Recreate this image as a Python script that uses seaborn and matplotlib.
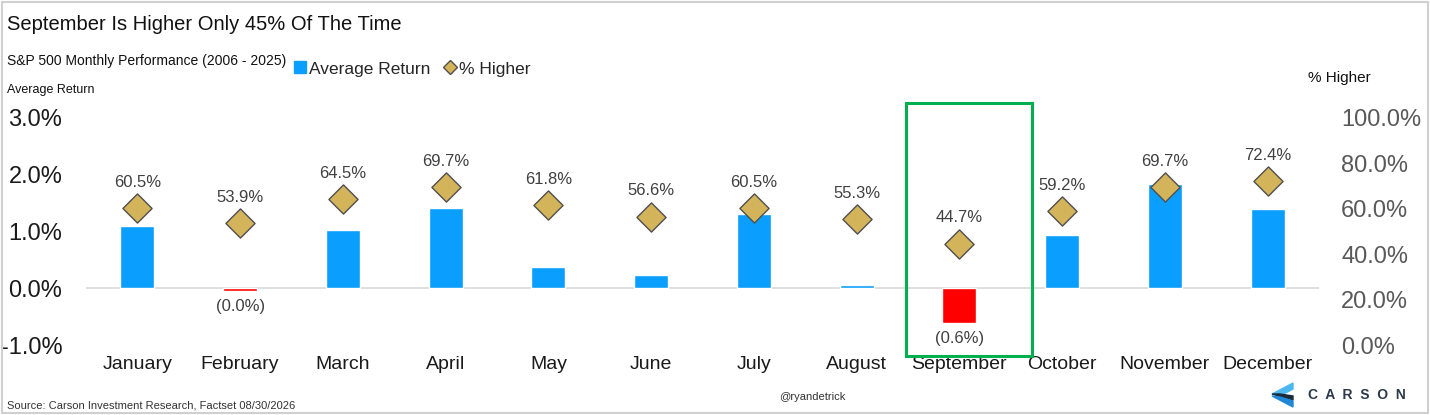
import matplotlib
matplotlib.use("Agg")
import matplotlib.pyplot as plt
from matplotlib import font_manager
from matplotlib.patches import Rectangle, Polygon
from matplotlib.lines import Line2D
import numpy as np
import pandas as pd
import seaborn as sns

# data
months = ["January", "February", "March", "April", "May", "June",
          "July", "August", "September", "October", "November", "December"]
avg_return = [1.09, -0.04, 1.03, 1.42, 0.37, 0.23, 1.30, 0.05, -0.61, 0.93, 1.84, 1.40]
pct_higher = [60.5, 53.9, 64.5, 69.7, 61.8, 56.6, 60.5, 55.3, 44.7, 59.2, 69.7, 72.4]
left_ticks = [-1.0, 0.0, 1.0, 2.0, 3.0]
right_ticks = [0, 20, 40, 60, 80, 100]

BLUE = "#0A9EFF"
RED = "#FF0000"
GOLD = "#D4B45A"
GREEN = "#00B050"

sns.set_theme(style="white")
names = {f.name for f in font_manager.fontManager.ttflist}
base_font = "Liberation Sans" if "Liberation Sans" in names else "DejaVu Sans"
plt.rcParams["font.family"] = [base_font, "DejaVu Sans"]

df = pd.DataFrame({"month": months, "ret": avg_return, "higher": pct_higher})
df["color"] = np.where(df["ret"] < 0, RED, BLUE)

W, H = 1430, 415
fig = plt.figure(figsize=(W / 100, H / 100), dpi=100)
ax = fig.add_axes([86 / W, 1 - 345 / H, (1319 - 86) / W, (345 - 118) / H])

ax.axhline(0, color="#D9D9D9", lw=1.2, zorder=0)
sns.barplot(data=df, x="month", y="ret", hue="month", palette=list(df["color"]),
            legend=False, width=0.33, ax=ax, saturation=1, zorder=2)
ax.set_ylim(-1.0, 3.0)
ax.set_xlim(-0.5, len(months) - 0.5)
ax.set_yticks(left_ticks)
ax.set_yticklabels([f"{t:.1f}%" for t in left_ticks])
for s in ax.spines.values():
    s.set_visible(False)
ax.set_xlabel("")
ax.set_ylabel("")
ax.tick_params(axis="y", labelsize=17, colors="#1A1A1A", length=0, pad=17)
ax.tick_params(axis="x", labelsize=14, colors="#1A1A1A", length=0, pad=8)

# negative bar labels
for i, v in enumerate(avg_return):
    if v < 0:
        ax.annotate(f"({abs(v):.1f}%)", (i, v), xytext=(0, -6), textcoords="offset points",
                    ha="center", va="top", fontsize=12, color="#404040")

ax2 = ax.twinx()
sns.scatterplot(x=np.arange(len(months)), y=pct_higher, marker="D", s=220,
                color=GOLD, edgecolor="#4F4F4F", linewidth=1, ax=ax2, zorder=5)
ax2.set_ylim(0, 100)
ax2.set_yticks(right_ticks)
ax2.set_yticklabels([f"{t:.1f}%" for t in right_ticks])
for s in ax2.spines.values():
    s.set_visible(False)
ax2.set_ylabel("")
ax2.tick_params(axis="y", labelsize=17, colors="#595959", length=0, pad=16)
for i, v in enumerate(pct_higher):
    ax2.annotate(f"{v:.1f}%", (i, v), xytext=(0, 13), textcoords="offset points",
                 ha="center", va="bottom", fontsize=12, color="#404040")

# highlight box around September
sep = months.index("September")
ax.add_patch(Rectangle((sep - 0.52, -1.19), 1.23, 4.45, fill=False, edgecolor=GREEN,
                       lw=2.2, clip_on=False, zorder=6))

# titles and axis captions
fig.text(7 / W, 1 - 24 / H, "September Is Higher Only 45% Of The Time",
         fontsize=14.5, va="center", ha="left", color="#111111")
fig.text(7 / W, 1 - 61 / H, "S&P 500 Monthly Performance (2006 - 2025)",
         fontsize=10, va="center", ha="left", color="#111111")
fig.text(7 / W, 1 - 90 / H, "Average Return", fontsize=9, va="center", ha="left",
         color="#111111")
fig.text(1339 / W, 1 - 78 / H, "% Higher", fontsize=11, va="center", ha="center",
         color="#111111")

handles = [Line2D([], [], marker="s", color=BLUE, ls="", markersize=8),
           Line2D([], [], marker="D", color=GOLD, markeredgecolor="#4F4F4F", ls="", markersize=7)]
fig.legend(handles, ["Average Return", "% Higher"], loc="center left",
           bbox_to_anchor=(294 / W, 1 - 69 / H), ncol=2, frameon=False,
           fontsize=12.5, handletextpad=0.15, columnspacing=0.8, handlelength=0.7,
           borderaxespad=0, borderpad=0)

fig.text(7 / W, 1 - 405 / H, "Source: Carson Investment Research, Factset 08/30/2026",
         fontsize=8, va="center", ha="left", color="#333333")
fig.text(812 / W, 1 - 397 / H, "@ryandetrick", fontsize=8, va="center", ha="center",
         color="#333333")

# Carson logo
def fp(pts):
    return [(x / W, 1 - y / H) for x, y in pts]
fig.patches.append(Polygon(fp([(1293, 383), (1272, 394), (1280, 396), (1293, 389)]),
                           closed=True, color="#4DB8F0", transform=fig.transFigure))
fig.patches.append(Polygon(fp([(1272, 394), (1293, 400), (1293, 396), (1280, 394)]),
                           closed=True, color="#1A2B3C", transform=fig.transFigure))
fig.patches.append(Polygon(fp([(1272, 396), (1293, 407), (1293, 401), (1280, 397)]),
                           closed=True, color="#1E88D6", transform=fig.transFigure))
fig.text(1308 / W, 1 - 395 / H, "C  A  R  S  O  N", fontsize=10, weight="bold",
         va="center", ha="left", color="#2B3A4A")

# outer frame
fig.patches.append(Rectangle((0.0015, 0.006), 0.997, 0.99, fill=False, edgecolor="#D0D0D0",
                             lw=1.5, transform=fig.transFigure))

fig.savefig("out.png", dpi=100, facecolor="white")
